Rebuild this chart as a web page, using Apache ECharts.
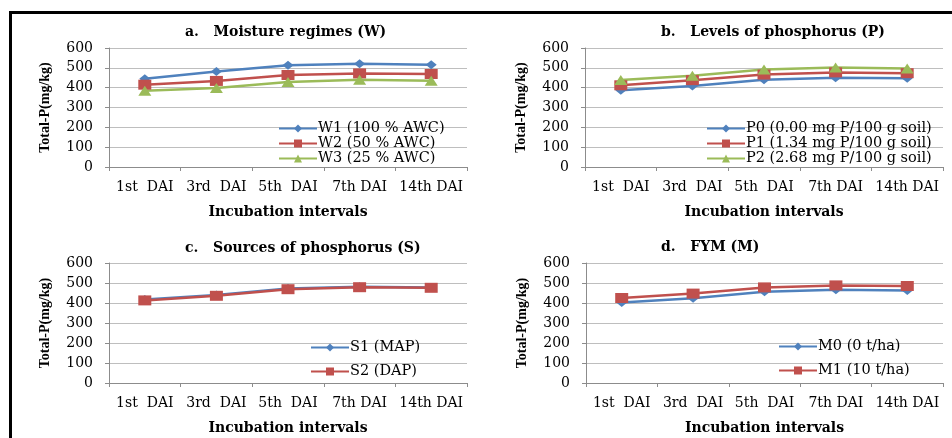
<!DOCTYPE html>
<html>
<head>
<meta charset="utf-8">
<script src="https://cdn.jsdelivr.net/npm/echarts@6/dist/echarts.min.js"></script>
<style>
html,body{margin:0;padding:0;background:#fff;}
#c{width:952px;height:438px;}
</style>
</head>
<body>
<div id="c"></div>
<script>
// ---- data ----
var categories = ['1st  DAI', '3rd  DAI', '5th  DAI', '7th DAI', '14th DAI'];
var yTicks = [0, 100, 200, 300, 400, 500, 600];

var titleA = 'a.   Moisture regimes (W)';
var titleB = 'b.   Levels of phosphorus (P)';
var titleC = 'c.   Sources of phosphorus (S)';
var titleD = 'd.   FYM (M)';

var namesA = ['W1 (100 % AWC)', 'W2 (50 % AWC)', 'W3 (25 % AWC)'];
var W1 = [445, 482, 513, 521, 516];
var W2 = [415, 434, 464, 472, 469];
var W3 = [385, 398, 429, 440, 435];

var namesB = ['P0 (0.00 mg P/100 g soil)', 'P1 (1.34 mg P/100 g soil)', 'P2 (2.68 mg P/100 g soil)'];
var P0 = [387, 409, 440, 450, 447];
var P1 = [412, 438, 466, 477, 473];
var P2 = [439, 460, 491, 502, 497];

var namesC = ['S1 (MAP)', 'S2 (DAP)'];
var S1 = [417, 440, 473, 481, 478];
var S2 = [413, 436, 469, 479, 476];

var namesD = ['M0 (0 t/ha)', 'M1 (10 t/ha)'];
var M0 = [403, 424, 456, 466, 462];
var M1 = [425, 447, 478, 488, 485];

var xName = 'Incubation intervals';
var yName = 'Total-P(mg/kg)';

// ---- styling ----
var BLUE = '#4F81BD', RED = '#C0504D', GREEN = '#9BBB59';
var HF = 'DejaVu Serif';
var VF = 'Liberation Serif';

var grids = [
  {left: 109, right: 485, top: 48, bottom: 271},
  {left: 585, right: 9, top: 48, bottom: 271},
  {left: 109, right: 485, top: 263, bottom: 55},
  {left: 586, right: 9, top: 263, bottom: 55}
];

function xAxis(i) {
  return {
    type: 'category', gridIndex: i, data: categories, boundaryGap: true,
    axisLine: {lineStyle: {color: '#8C8C8C', width: 1}},
    axisTick: {show: true, length: 4, lineStyle: {color: '#8C8C8C'}},
    axisLabel: {interval: 0, color: '#000', fontFamily: HF, fontSize: 14, margin: 13},
    name: xName, nameLocation: 'middle', nameGap: 38,
    nameTextStyle: {color: '#000', fontFamily: HF, fontSize: 14, fontWeight: 'bold'}
  };
}
function yAxis(i) {
  return {
    type: 'value', gridIndex: i, min: yTicks[0], max: yTicks[yTicks.length - 1], interval: 100,
    axisLine: {show: true, lineStyle: {color: '#8C8C8C', width: 1}},
    axisTick: {show: true, length: 4, lineStyle: {color: '#8C8C8C'}},
    splitLine: {show: true, lineStyle: {color: '#BEBEBE', width: 1}},
    axisLabel: {color: '#000', fontFamily: HF, fontSize: 14, margin: 16},
    name: yName, nameLocation: 'middle', nameGap: 57,
    nameTextStyle: {color: '#000', fontFamily: VF, fontSize: 14, fontWeight: 'bold'}
  };
}
var SYM = {
  blue: {symbol: 'diamond', symbolSize: [11, 9], color: BLUE},
  red: {symbol: 'rect', symbolSize: [13, 10], color: RED},
  green: {symbol: 'triangle', symbolSize: [13, 10], color: GREEN}
};
function line(name, data, i, s) {
  return {
    type: 'line', name: name, data: data, xAxisIndex: i, yAxisIndex: i,
    symbol: s.symbol, symbolSize: s.symbolSize,
    lineStyle: {color: s.color, width: 2.5},
    itemStyle: {color: s.color},
    emphasis: {disabled: true}, animation: false
  };
}
function legend(names, left, top, gap) {
  return {
    data: names, orient: 'vertical', left: left, top: top, itemGap: gap,
    itemWidth: 38, itemHeight: 10, padding: 0,
    textStyle: {color: '#000', fontFamily: HF, fontSize: 14.5, lineHeight: 15, padding: [0,0,0,-4]}
  };
}
function title(text, left, top) {
  return {text: text, left: left, top: top, padding: 0,
    textStyle: {color: '#000', fontFamily: HF, fontSize: 14, fontWeight: 'bold'}};
}

var chart = echarts.init(document.getElementById('c'), null, {renderer: 'canvas'});
chart.setOption({
  backgroundColor: '#fff',
  animation: false,
  title: [title(titleA, 185, 25), title(titleB, 661, 25), title(titleC, 185, 241), title(titleD, 661, 240)],
  legend: [legend(namesA, 278, 121, 0), legend(namesB, 706, 121, 0), legend(namesC, 310, 340, 9), legend(namesD, 778, 339, 9)],
  grid: grids,
  xAxis: [xAxis(0), xAxis(1), xAxis(2), xAxis(3)],
  yAxis: [yAxis(0), yAxis(1), yAxis(2), yAxis(3)],
  series: [
    line(namesA[0], W1, 0, SYM.blue), line(namesA[1], W2, 0, SYM.red), line(namesA[2], W3, 0, SYM.green),
    line(namesB[0], P0, 1, SYM.blue), line(namesB[1], P1, 1, SYM.red), line(namesB[2], P2, 1, SYM.green),
    line(namesC[0], S1, 2, SYM.blue), line(namesC[1], S2, 2, SYM.red),
    line(namesD[0], M0, 3, SYM.blue), line(namesD[1], M1, 3, SYM.red)
  ],
  graphic: [
    {type: 'line', shape: {x1: 10, y1: 12.5, x2: 952, y2: 12.5}, style: {stroke: '#000', lineWidth: 3}, silent: true},
    {type: 'line', shape: {x1: 10.5, y1: 11, x2: 10.5, y2: 438}, style: {stroke: '#000', lineWidth: 3}, silent: true}
  ]
});
</script>
</body>
</html>
